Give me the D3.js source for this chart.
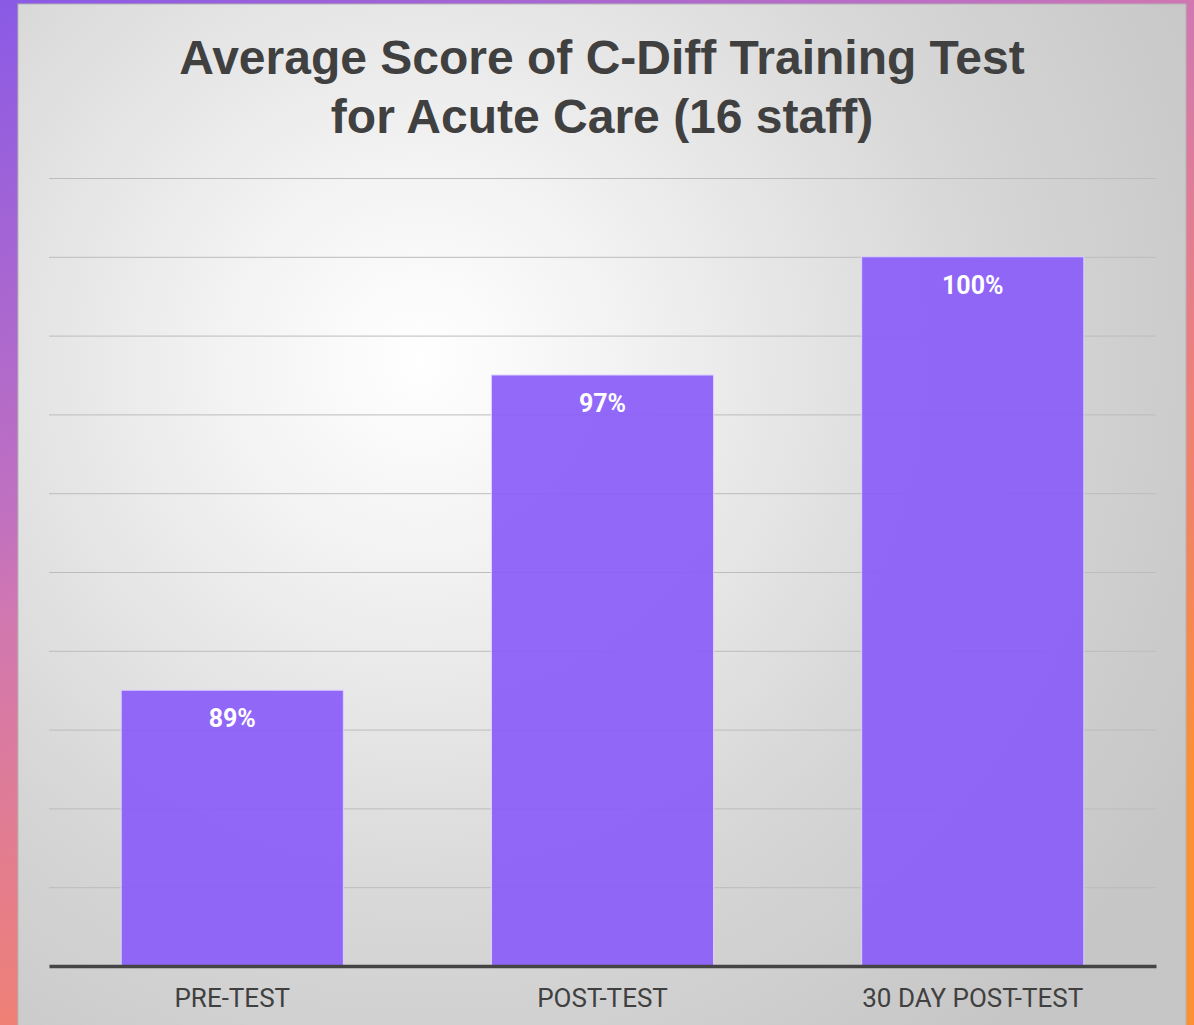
<!DOCTYPE html>
<html>
<head>
<meta charset="utf-8">
<script src="https://cdn.jsdelivr.net/npm/d3@7"></script>
<style>
  html, body { margin: 0; padding: 0; background: #fff; }
  svg { display: block; }
</style>
</head>
<body>
<div id="chart"></div>
<script>
// chart data
var categories = ["PRE-TEST", "POST-TEST", "30 DAY POST-TEST"];
var scores = [89, 97, 100];
var valueLabels = ["89%", "97%", "100%"];
var titleLines = ["Average Score of C-Diff Training Test", "for Acute Care (16 staff)"];

var svgWidth = 1194;
var svgHeight = 1025;

var plot = { left: 49, right: 1156, top: 178, bottom: 966 };

var svg = d3.select("#chart")
  .append("svg")
  .attr("width", svgWidth)
  .attr("height", svgHeight);

var defs = svg.append("defs");

// colourful frame
var frameGrad = defs.append("linearGradient")
  .attr("id", "frameGrad")
  .attr("x1", "0%").attr("y1", "0%")
  .attr("x2", "60%").attr("y2", "100%");
frameGrad.append("stop").attr("offset", "0%").attr("stop-color", "#8a5ae6");
frameGrad.append("stop").attr("offset", "37%").attr("stop-color", "#c070c0");
frameGrad.append("stop").attr("offset", "45%").attr("stop-color", "#d278b0");
frameGrad.append("stop").attr("offset", "73%").attr("stop-color", "#ee8078");
frameGrad.append("stop").attr("offset", "82%").attr("stop-color", "#f28460");
frameGrad.append("stop").attr("offset", "100%").attr("stop-color", "#fb9034");

// soft spotlight background
var bgGrad = defs.append("radialGradient")
  .attr("id", "bgGrad")
  .attr("gradientUnits", "userSpaceOnUse")
  .attr("cx", 420).attr("cy", 360).attr("r", 880);
bgGrad.append("stop").attr("offset", "0%").attr("stop-color", "#ffffff");
bgGrad.append("stop").attr("offset", "22%").attr("stop-color", "#f3f3f3");
bgGrad.append("stop").attr("offset", "65%").attr("stop-color", "#d6d6d6");
bgGrad.append("stop").attr("offset", "100%").attr("stop-color", "#c6c6c6");

svg.append("rect")
  .attr("width", svgWidth)
  .attr("height", svgHeight)
  .attr("fill", "url(#frameGrad)");

svg.append("rect")
  .attr("x", 18)
  .attr("y", 4)
  .attr("width", 1168)
  .attr("height", svgHeight)
  .attr("fill", "url(#bgGrad)")
  .attr("stroke", "#b4b4b4")
  .attr("stroke-width", 1);

// scales
var xScale = d3.scaleBand()
  .domain(categories)
  .range([plot.left, plot.right])
  .paddingInner(0.4)
  .paddingOuter(0.195);

var yScale = d3.scaleLinear()
  .domain([82, 102])
  .range([plot.bottom, plot.top]);

// gridlines
var gridAxis = d3.axisLeft(yScale)
  .tickValues(d3.range(84, 103, 2))
  .tickSize(-(plot.right - plot.left))
  .tickFormat("");

var grid = svg.append("g")
  .attr("transform", `translate(${plot.left}, 0)`)
  .call(gridAxis);
grid.select(".domain").remove();
grid.selectAll(".tick line")
  .attr("stroke", "#bcbcbc")
  .attr("stroke-width", 1);

// bars
var data = categories.map((c, i) => ({ cat: c, value: scores[i], label: valueLabels[i] }));

svg.selectAll(".bar")
  .data(data)
  .enter()
  .append("rect")
  .attr("class", "bar")
  .attr("x", d => xScale(d.cat))
  .attr("y", d => yScale(d.value))
  .attr("width", xScale.bandwidth())
  .attr("height", d => yScale(82) - yScale(d.value))
  .attr("fill", "#8a5cfa")
  .attr("fill-opacity", 0.92)
  .attr("stroke", "#dcd2ff")
  .attr("stroke-width", 1);

// value labels inside bars
svg.selectAll(".valueLabel")
  .data(data)
  .enter()
  .append("text")
  .attr("class", "valueLabel")
  .attr("x", d => xScale(d.cat) + xScale.bandwidth() / 2)
  .attr("y", d => yScale(d.value) + 37)
  .attr("text-anchor", "middle")
  .attr("fill", "#ffffff")
  .style("font-family", "Roboto, 'Liberation Sans', sans-serif")
  .style("font-weight", "700")
  .style("font-size", "25px")
  .text(d => d.label);

// baseline + category labels
var bottomAxis = d3.axisBottom(xScale).tickSize(0).tickPadding(23);
var xAxis = svg.append("g")
  .attr("transform", `translate(0, ${yScale(82)})`)
  .call(bottomAxis);
xAxis.select(".domain")
  .attr("stroke", "#444444")
  .attr("stroke-width", 3.5);
xAxis.selectAll("text")
  .attr("fill", "#404040")
  .style("font-family", "Roboto, 'Liberation Sans', sans-serif")
  .style("font-size", "26px");

// title
svg.append("g")
  .selectAll("text")
  .data(titleLines)
  .enter()
  .append("text")
  .attr("x", 602)
  .attr("y", (d, i) => 74 + i * 59)
  .attr("text-anchor", "middle")
  .attr("fill", "#404040")
  .style("font-family", "'Liberation Sans', Arial, sans-serif")
  .style("font-weight", "bold")
  .style("font-size", "48px")
  .text(d => d);
</script>
</body>
</html>
